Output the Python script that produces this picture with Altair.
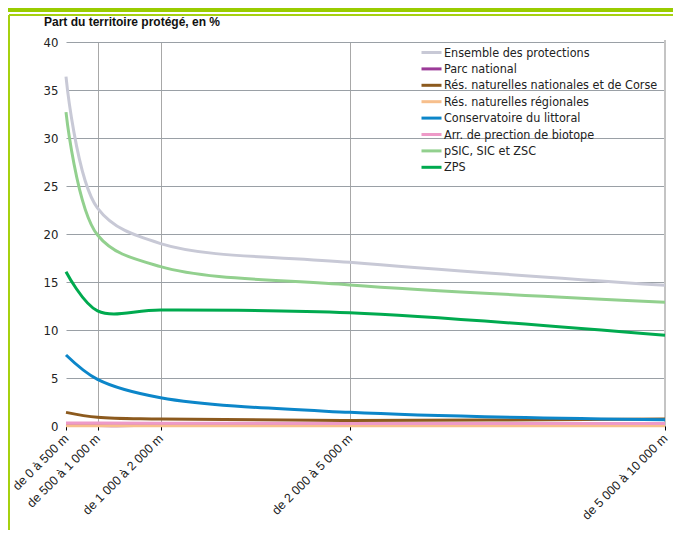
import altair as alt
import pandas as pd

# ---- data ----
categories = ["de 0 à 500 m", "de 500 à 1 000 m", "de 1 000 à 2 000 m",
              "de 2 000 à 5 000 m", "de 5 000 à 10 000 m"]
upper_bound_m = [500, 1000, 2000, 5000, 10000]

series_names = ["Ensemble des protections", "Parc national",
                "Rés. naturelles nationales et de Corse", "Rés. naturelles régionales",
                "Conservatoire du littoral", "Arr. de prection de biotope",
                "pSIC, SIC et ZSC", "ZPS"]
series_colors = ["#c8c9d6", "#9b3a98", "#8c5a1e", "#f7bf8c",
                 "#0c86c9", "#ee9ac8", "#92d08e", "#00aa4f"]

ensemble = [36.4, 22.7, 19.0, 17.05, 14.65]
parc_national = [0.2, 0.05, 0.05, 0.05, 0.05]
res_nat_nationales = [1.42, 0.9, 0.72, 0.58, 0.72]
res_nat_regionales = [0.02, 0.02, 0.03, 0.03, 0.03]
conservatoire = [7.4, 4.86, 2.95, 1.42, 0.65]
arr_biotope = [0.3, 0.3, 0.28, 0.27, 0.27]
psic = [32.7, 19.9, 16.6, 14.7, 12.9]
zps = [16.07, 12.0, 12.08, 11.8, 9.45]

values = [ensemble, parc_national, res_nat_nationales, res_nat_regionales,
          conservatoire, arr_biotope, psic, zps]

title_text = "Part du territoire protégé, en %"

rows = []
for name, vals in zip(series_names, values):
    for cat, ub, v in zip(categories, upper_bound_m, vals):
        rows.append({"serie": name, "classe": cat, "borne": ub, "part": v})
df = pd.DataFrame(rows)

label_expr = "".join(f"datum.value == {ub} ? '{c}' : " for ub, c in zip(upper_bound_m, categories)) + "''"

COND = "'Liberation Sans Narrow', 'DejaVu Sans Condensed', sans-serif"
SANS = "'Liberation Sans', Arial, sans-serif"

W, H = 599, 384
PL, PT, PR, PB = 58, 34, 8, 104

lines = alt.Chart(df).mark_line(strokeWidth=3, interpolate="catmull-rom", clip=False).encode(
    x=alt.X("borne:Q", scale=alt.Scale(domain=[500, 10000], nice=False, zero=False),
            axis=alt.Axis(values=upper_bound_m, labelExpr=label_expr, title=None,
                          labelAngle=315, labelAlign="right", labelBaseline="middle",
                          labelFont=SANS, labelFontSize=12.5, labelColor="#222",
                          labelPadding=6, tickColor="#000", tickSize=4, domain=False,
                          grid=True,
                          gridColor={"condition": {"test": "datum.value == 500", "value": "transparent"},
                                     "value": "#a8a8a8"},
                          labelOverlap=False, labelFlush=False)),
    y=alt.Y("part:Q", scale=alt.Scale(domain=[0, 40], nice=False),
            axis=alt.Axis(values=[0, 5, 10, 15, 20, 25, 30, 35, 40], title=None, ticks=False,
                          domain=False, labelFont=COND, labelFontSize=13, labelColor="#222",
                          labelPadding=8, gridColor="#9aa0a6")),
    color=alt.Color("serie:N", sort=series_names,
                    scale=alt.Scale(domain=series_names, range=series_colors),
                    legend=alt.Legend(title=None, orient="none", legendX=358, legendY=3,
                                      symbolType="M-1.667,0H1.667", symbolSize=144,
                                      symbolStrokeWidth=3,
                                      labelFont=COND, labelFontSize=12.5, labelColor="#222",
                                      labelOffset=5, rowPadding=2.4, labelLimit=400)),
    order=alt.Order("borne:Q"),
)

frame_df = pd.DataFrame({"t": [title_text]})
frame_top_bar = alt.Chart(frame_df).mark_rect(color="#99cc00").encode(
    x=alt.value(-PL), x2=alt.value(W + PR), y=alt.value(-PT), y2=alt.value(-PT + 4))
frame_top_line = alt.Chart(frame_df).mark_rule(color="#a6d10f", strokeWidth=2).encode(
    x=alt.value(-PL + 1), x2=alt.value(W + PR), y=alt.value(-PT + 7))
frame_left_line = alt.Chart(frame_df).mark_rule(color="#a6d10f", strokeWidth=2).encode(
    x=alt.value(-PL + 1), y=alt.value(-PT + 7), y2=alt.value(H + PB))
right_edge = alt.Chart(frame_df).mark_rule(color="#c4c4c4", strokeWidth=2).encode(
    x=alt.value(W), y=alt.value(-2), y2=alt.value(H))
title = alt.Chart(frame_df).mark_text(font=SANS, fontSize=12, fontWeight="bold", color="#111",
                                      align="left", baseline="alphabetic").encode(
    x=alt.value(-22), y=alt.value(-16), text="t:N")

chart = alt.layer(frame_top_bar, frame_top_line, frame_left_line, right_edge, title, lines).properties(
    width=W, height=H,
    autosize=alt.AutoSizeParams(type="none"),
    padding={"left": PL, "top": PT, "right": PR, "bottom": PB},
).configure_view(stroke=None)

chart.save("out.html", embed_options={"renderer": "svg", "actions": False})
